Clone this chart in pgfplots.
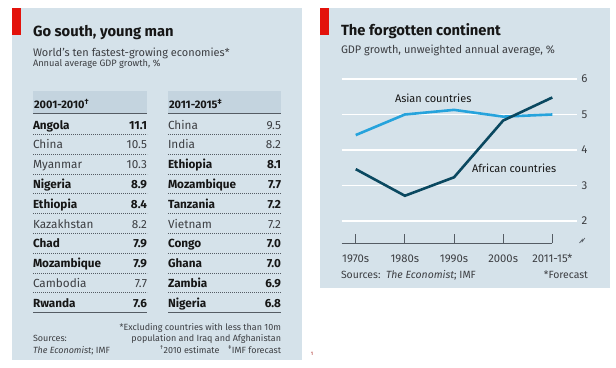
\documentclass[border=0pt]{standalone}
\usepackage{pgfplots}
\pgfplotsset{compat=1.18}
\usepackage{fontspec}
\setmainfont{Fira Sans}
\definecolor{panel}{RGB}{213,226,234}
\definecolor{hband}{RGB}{196,212,223}
\definecolor{ered}{RGB}{227,18,11}
\definecolor{asia}{RGB}{38,163,220}
\definecolor{africa}{RGB}{10,72,96}
\definecolor{txt}{RGB}{22,22,22}
\definecolor{reg}{RGB}{60,62,66}
\definecolor{rule}{RGB}{85,92,100}
\newcommand{\fs}[1]{\fontsize{#1}{#1}\selectfont}
\begin{document}
\begin{tikzpicture}[x=1bp,y=-1bp,every node/.style={inner sep=0pt,outer sep=0pt}]
\path[use as bounding box,fill=white] (0,0) rectangle (616,367);
% ---------- left panel ----------
\fill[panel] (12,8) rectangle (302,360);
\fill[ered] (12,8) rectangle (21,35);
\node[anchor=base west,font=\bfseries\fs{14.8},text=txt] at (33,36) {Go south, young man};
\node[anchor=base west,font=\fs{11},text=reg] at (33,56.5) {World’s ten fastest-growing economies*};
\node[anchor=base west,font=\fs{9.3},text=reg] at (33,66.7) {Annual average GDP growth, \%};
\fill[hband] (33,91) rectangle (147,113.5);
\fill[hband] (168,91) rectangle (281,113.5);
\draw[rule,line width=1.1bp] (33,113.5) -- (147,113.5);
\draw[rule,line width=1.1bp] (168,113.5) -- (281,113.5);
\node[anchor=base west,font=\bfseries\fs{11},text=txt] at (34,108.3) {2001-2010\textsuperscript{†}};
\node[anchor=base west,font=\bfseries\fs{11},text=txt] at (169,108.3) {2011-2015\textsuperscript{‡}};
\foreach \n/\v/\b [count=\i from 0] in {Angola/11.1/1,China/10.5/0,Myanmar/10.3/0,Nigeria/8.9/1,Ethiopia/8.4/1,Kazakhstan/8.2/0,Chad/7.9/1,Mozambique/7.9/1,Cambodia/7.7/0,Rwanda/7.6/1}{
  \pgfmathsetmacro{\yb}{129+19.8*\i}
  \ifnum\b=1
    \node[anchor=base west,font=\bfseries\fs{11.8},text=txt] at (33,\yb) {\n};
    \node[anchor=base east,font=\bfseries\fs{11.8},text=txt] at (147,\yb) {\v};
  \else
    \node[anchor=base west,font=\fs{11.8},text=reg] at (33,\yb) {\n};
    \node[anchor=base east,font=\fs{11.8},text=reg] at (147,\yb) {\v};
  \fi
}
\foreach \n/\v/\b [count=\i from 0] in {China/9.5/0,India/8.2/0,Ethiopia/8.1/1,Mozambique/7.7/1,Tanzania/7.2/1,Vietnam/7.2/0,Congo/7.0/1,Ghana/7.0/1,Zambia/6.9/1,Nigeria/6.8/1}{
  \pgfmathsetmacro{\yb}{129+19.8*\i}
  \ifnum\b=1
    \node[anchor=base west,font=\bfseries\fs{11.8},text=txt] at (168,\yb) {\n};
    \node[anchor=base east,font=\bfseries\fs{11.8},text=txt] at (281,\yb) {\v};
  \else
    \node[anchor=base west,font=\fs{11.8},text=reg] at (168,\yb) {\n};
    \node[anchor=base east,font=\fs{11.8},text=reg] at (281,\yb) {\v};
  \fi
}
\foreach \i in {0,...,8}{
  \pgfmathsetmacro{\yl}{134.4+19.8*\i}
  \draw[rule,line width=0.8bp,dash pattern=on 0.9bp off 1.1bp] (33,\yl) -- (147,\yl);
  \draw[rule,line width=0.8bp,dash pattern=on 0.9bp off 1.1bp] (168,\yl) -- (281,\yl);
}
\draw[rule,line width=1.1bp] (33,312.7) -- (147,312.7);
\draw[rule,line width=1.1bp] (168,312.7) -- (281,312.7);
\node[anchor=base east,font=\fs{9},text=reg] at (281,330) {*Excluding countries with less than 10m};
\node[anchor=base east,font=\fs{9},text=reg] at (281,341.8) {population and Iraq and Afghanistan};
\node[anchor=base east,font=\fs{9},text=reg] at (281,353.7) {\textsuperscript{†}2010 estimate\quad\textsuperscript{‡}IMF forecast};
\node[anchor=base west,font=\fs{9},text=reg] at (33,341.8) {Sources:};
\node[anchor=base west,font=\fs{9},text=reg] at (33,353.7) {\textit{The Economist}; IMF};
\node[anchor=base,font=\fs{5},text=ered!70!black] at (312,355) {1};
% ---------- right panel ----------
\fill[panel] (320,8) rectangle (610,288);
\fill[ered] (320,8) rectangle (329,35);
\node[anchor=base west,font=\bfseries\fs{14.8},text=txt] at (341,35) {The forgotten continent};
\node[anchor=base west,font=\fs{11},text=reg] at (341,53.5) {GDP growth, unweighted annual average, \%};
\begin{axis}[at={(341.7bp,-243.3bp)},anchor=south west,width=235bp,height=164.3bp,scale only axis,
  xmin=-0.285,xmax=4.496,ymin=1.37,ymax=6,clip=false,
  axis line style={draw=none},
  ytick={2,3,4,5,6},ymajorgrids,grid style={white,line width=1.4bp},
  yticklabel pos=right,y tick style={draw=none},
  yticklabel style={anchor=center,xshift=7.8bp,font=\fs{11.5},text=reg},
  xtick={0,1,2,3,4},xticklabels={1970s,1980s,1990s,2000s,2011-15*},
  xtick pos=lower,tick align=inside,major tick length=9bp,
  x tick style={rule,line width=0.8bp},
  xticklabel style={anchor=base,yshift=-19bp,font=\fs{11.3},text=reg},
  /pgf/number format/assume math mode=true]
\draw[rule,line width=1.1bp] (axis cs:-0.285,1.37) -- (axis cs:4,1.37);
\addplot[asia,line width=2.6bp,no marks] coordinates {(0,4.42) (1,5.00) (2,5.13) (3,4.94) (4,5.00)};
\addplot[africa,line width=2.6bp,no marks] coordinates {(0,3.46) (1,2.71) (2,3.23) (3,4.83) (4,5.48)};
\end{axis}
\draw[rule,line width=0.7bp] (579.5,243) -- (582.2,239.6) -- (582.2,241.6) -- (584.8,238);
\node[anchor=base west,font=\fs{11},text=txt] at (395,102.3) {Asian countries};
\node[anchor=base west,font=\fs{11},text=txt] at (472,172.3) {African countries};
\node[anchor=base west,font=\fs{10.5},text=reg] at (341,278.3) {Sources:\ \ \textit{The Economist}; IMF};
\node[anchor=base east,font=\fs{10.5},text=reg] at (588,278.3) {*Forecast};
\end{tikzpicture}
\end{document}
